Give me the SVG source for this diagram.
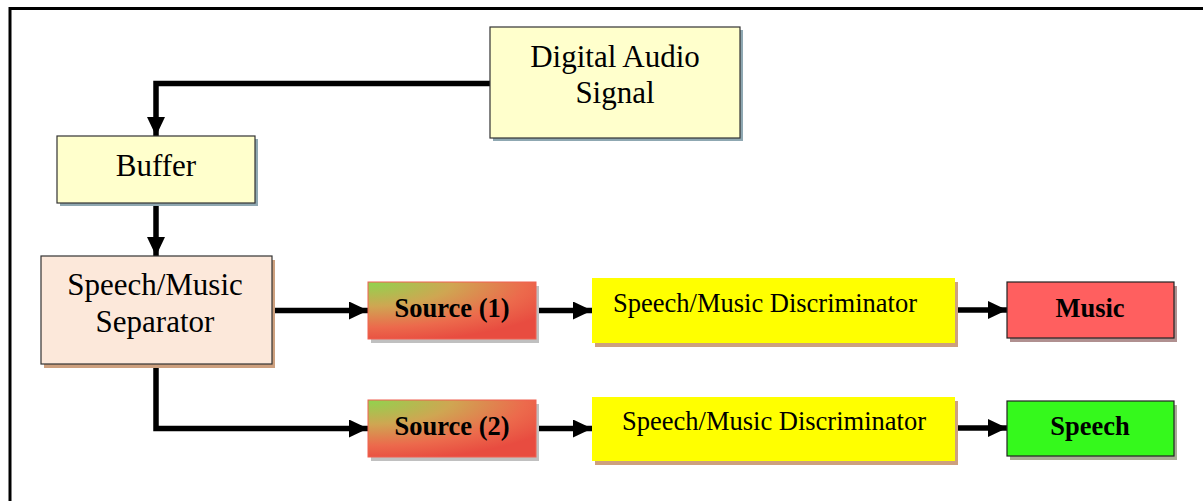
<svg xmlns="http://www.w3.org/2000/svg" width="1203" height="501" viewBox="0 0 1203 501">
  <defs>
    <style>
      .lbl { font-family: "Liberation Serif", "Times New Roman", serif; fill: #000; text-anchor: middle; }
      .big { font-size: 31px; }
      .small { font-size: 26.5px; }
      .bold { font-weight: bold; }
      .wire { fill: none; stroke: #000; stroke-width: 5.5; }
      .pale { fill: #ffffcc; stroke: #333; stroke-width: 1.2; }
      .peach { fill: #fce8da; stroke: #333; stroke-width: 1.2; }
      .yellow { fill: #ffff00; }
      .src { fill: url(#srcGrad); stroke: #f06050; stroke-width: 1; }
    </style>
    <radialGradient id="srcGrad" cx="0" cy="0" r="1.25" fx="0" fy="0" gradientTransform="scale(1,0.85)">
      <stop offset="0" stop-color="#8fd44e"/>
      <stop offset="0.4" stop-color="#cfa652"/>
      <stop offset="0.75" stop-color="#ec6a4c"/>
      <stop offset="1" stop-color="#e84c40"/>
    </radialGradient>
    <marker id="arrow" viewBox="0 0 19 18" refX="19" refY="9" markerWidth="19" markerHeight="18" markerUnits="userSpaceOnUse" orient="auto">
      <path d="M0,0 L19,9 L0,18 Z" fill="#000"/>
    </marker>
  </defs>

  <rect width="1203" height="501" fill="#fff"/>
  <!-- outer frame -->
  <rect x="10" y="8.5" width="1220" height="520" fill="none" stroke="#000" stroke-width="3"/>

  <g id="connectors">
    <path class="wire" d="M490,83.5 H156 V136" marker-end="url(#arrow)"/>
    <path class="wire" d="M156,203 V256" marker-end="url(#arrow)"/>
    <path class="wire" d="M271,310.5 H368" marker-end="url(#arrow)"/>
    <path class="wire" d="M156,364 V428.5 H368" marker-end="url(#arrow)"/>
    <path class="wire" d="M536,310.5 H592" marker-end="url(#arrow)"/>
    <path class="wire" d="M536,428.5 H592" marker-end="url(#arrow)"/>
    <path class="wire" d="M955,310 H1007" marker-end="url(#arrow)"/>
    <path class="wire" d="M955,428 H1007" marker-end="url(#arrow)"/>
  </g>

  <g id="digital-audio-signal">
    <rect x="493" y="30" width="250" height="111" fill="#8fa8b2"/>
    <rect class="pale" x="490" y="27" width="250" height="111"/>
    <text class="lbl big" x="615" y="67">Digital Audio</text>
    <text class="lbl big" x="615" y="103">Signal</text>
  </g>

  <g id="buffer">
    <rect x="60" y="139" width="198" height="67" fill="#8fa8b2"/>
    <rect class="pale" x="57" y="136" width="198" height="67"/>
    <text class="lbl big" x="156" y="176">Buffer</text>
  </g>

  <g id="separator">
    <rect x="44" y="260" width="231" height="108" fill="#cda07e"/>
    <rect class="peach" x="41" y="256" width="231" height="108"/>
    <text class="lbl big" x="155" y="295">Speech/Music</text>
    <text class="lbl big" x="155" y="332">Separator</text>
  </g>

  <g id="source-1">
    <rect x="371" y="286" width="168" height="57" fill="#c0c0c0"/>
    <rect class="src" x="368" y="282" width="168" height="57"/>
    <text class="lbl small bold" x="452" y="317">Source (1)</text>
  </g>

  <g id="source-2">
    <rect x="371" y="404" width="168" height="57" fill="#c0c0c0"/>
    <rect class="src" x="368" y="400" width="168" height="57"/>
    <text class="lbl small bold" x="452" y="435">Source (2)</text>
  </g>

  <g id="discriminator-1">
    <rect x="595" y="282" width="363" height="65" fill="#cda07e"/>
    <rect class="yellow" x="592" y="278" width="363" height="65"/>
    <text class="lbl small" x="765" y="312">Speech/Music Discriminator</text>
  </g>

  <g id="discriminator-2">
    <rect x="595" y="401" width="363" height="64" fill="#cda07e"/>
    <rect class="yellow" x="592" y="397" width="363" height="64"/>
    <text class="lbl small" x="774" y="430">Speech/Music Discriminator</text>
  </g>

  <g id="music">
    <rect x="1010" y="286" width="167" height="56" fill="#b09090"/>
    <rect x="1007" y="282" width="167" height="56" fill="#ff5f5f" stroke="#222" stroke-width="1.2"/>
    <text class="lbl small bold" x="1090" y="317">Music</text>
  </g>

  <g id="speech">
    <rect x="1010" y="405" width="167" height="55" fill="#a8ae96"/>
    <rect x="1007" y="401" width="167" height="55" fill="#35f91c" stroke="#222" stroke-width="1.2"/>
    <text class="lbl small bold" x="1090" y="435">Speech</text>
  </g>
</svg>
